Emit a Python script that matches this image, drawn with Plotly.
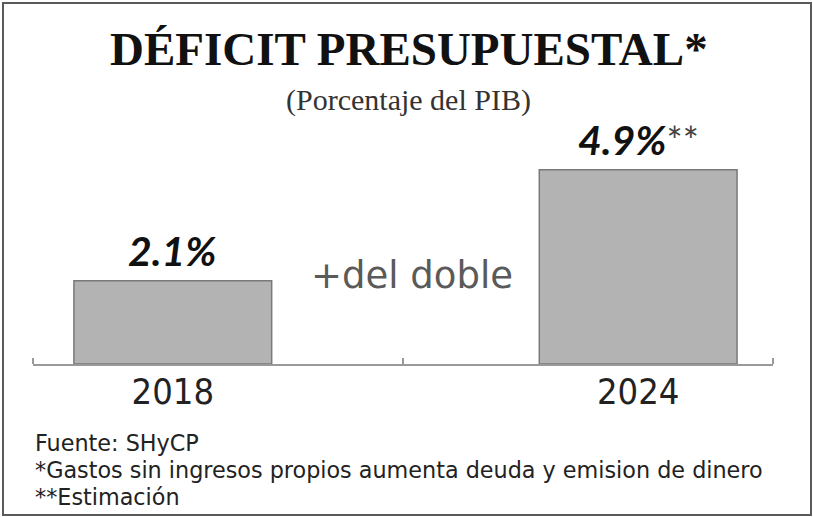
import plotly.graph_objects as go

# ---- data ----
years = ["2018", "2024"]
deficit = [2.1, 4.9]
value_labels = ["2.1%", "4.9%"]
value_suffix = ["", "**"]
title_text = "DÉFICIT PRESUPUESTAL*"
subtitle_text = "(Porcentaje del PIB)"
middle_text = "+del doble"
footnotes = [
    "Fuente: SHyCP",
    "*Gastos sin ingresos propios aumenta deuda y emision de dinero",
    "**Estimación",
]

W, H = 813, 517
L, R, T, B = 33, 40, 146, 153
PW, PH = W - L - R, H - T - B
xpos = list(range(len(years)))
XR = [-0.3004, 1.2897]
YR = [0, 5.5]

fig = go.Figure()
fig.add_trace(go.Bar(
    x=xpos, y=deficit, width=0.425,
    marker=dict(color="#b3b3b3", line=dict(color="#7a7a7a", width=1.5)),
    hoverinfo="skip",
))

annotations = []
for xi, v, lab, suf in zip(xpos, deficit, value_labels, value_suffix):
    txt = "<b><i>" + lab + "</i></b>"
    if suf:
        txt += "<span style='font-size:38px;color:#444'>" + suf + "</span>"
    annotations.append(dict(
        x=xi, y=v, xref="x", yref="y", text=txt, showarrow=False,
        xanchor="center", yanchor="bottom", yshift=4,
        font=dict(family="Lato", size=41, color="#111"),
    ))

annotations.append(dict(
    x=0.513, y=0.404, xref="x", yref="paper", text=middle_text, showarrow=False,
    xanchor="center", yanchor="middle",
    font=dict(family="DejaVu Sans", size=37, color="#5a5a5a"),
))
annotations.append(dict(
    x=0.508, y=1.445, xref="paper", yref="paper", text="<b>" + title_text + "</b>",
    showarrow=False, xanchor="center", yanchor="middle",
    font=dict(family="Liberation Serif", size=47, color="#111"),
))
annotations.append(dict(
    x=0.508, y=1.211, xref="paper", yref="paper", text=subtitle_text,
    showarrow=False, xanchor="center", yanchor="middle",
    font=dict(family="Liberation Serif", size=30, color="#333"),
))
for i, fn in enumerate(footnotes):
    annotations.append(dict(
        x=0, y=-0.362 - 0.123 * i, xref="paper", yref="paper", text=fn,
        showarrow=False, xanchor="left", yanchor="middle",
        font=dict(family="DejaVu Sans", size=22.3, color="#222"),
    ))

fig.update_layout(
    width=W, height=H,
    margin=dict(l=L, r=R, t=T, b=B, pad=0),
    paper_bgcolor="white", plot_bgcolor="white",
    showlegend=False,
    annotations=annotations,
    shapes=[dict(
        type="rect", xref="paper", yref="paper",
        x0=(3 - L) / PW, x1=(811 - L) / PW,
        y0=-(515 - (H - B)) / PH, y1=((H - B) - 3) / PH,
        line=dict(color="#5a5a5a", width=2), fillcolor="rgba(0,0,0,0)",
    )],
    xaxis=dict(
        range=XR, showgrid=False, zeroline=False,
        tickvals=xpos, ticktext=years, ticks="",
        tickfont=dict(family="Liberation Sans Narrow, DejaVu Sans Condensed, Lato",
                      size=36, color="#222"),
        ticklabelstandoff=-5,
        showline=True, linecolor="#999", linewidth=2,
        minor=dict(tickvals=[XR[0], 0.495, XR[1]], ticks="inside",
                   ticklen=6, tickcolor="#999", tickwidth=2),
        fixedrange=True,
    ),
    yaxis=dict(range=YR, visible=False, fixedrange=True),
)

fig.write_html("out.html", config={"displayModeBar": False},
               post_script="document.body.style.margin='0';")
